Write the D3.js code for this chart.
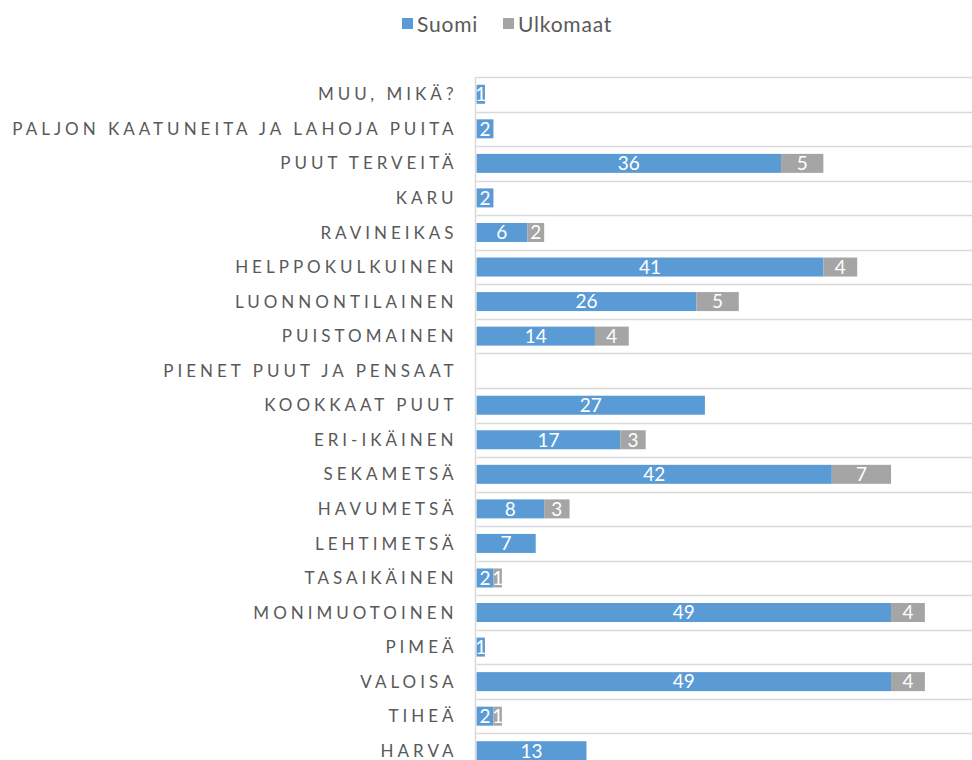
<!DOCTYPE html>
<html>
<head>
<meta charset="utf-8">
<script src="https://cdn.jsdelivr.net/npm/d3@7"></script>
<style>
  html, body { margin: 0; padding: 0; background: #fff; overflow: hidden; }
  svg { display: block; font-family: Lato, "Open Sans", sans-serif; }
</style>
</head>
<body>
<div class="chart"></div>
<script>
var categories = ["MUU, MIKÄ?", "PALJON KAATUNEITA JA LAHOJA PUITA", "PUUT TERVEITÄ", "KARU",
    "RAVINEIKAS", "HELPPOKULKUINEN", "LUONNONTILAINEN", "PUISTOMAINEN", "PIENET PUUT JA PENSAAT",
    "KOOKKAAT PUUT", "ERI-IKÄINEN", "SEKAMETSÄ", "HAVUMETSÄ", "LEHTIMETSÄ", "TASAIKÄINEN",
    "MONIMUOTOINEN", "PIMEÄ", "VALOISA", "TIHEÄ", "HARVA"];
var suomi    = [1, 2, 36, 2, 6, 41, 26, 14, 0, 27, 17, 42, 8, 7, 2, 49, 1, 49, 2, 13];
var ulkomaat = [0, 0, 5, 0, 2, 4, 5, 4, 0, 0, 3, 7, 3, 0, 1, 4, 0, 4, 1, 0];
var seriesNames = ["Suomi", "Ulkomaat"];
var seriesColors = ["#5B9BD5", "#A5A5A5"];

var width = 972, height = 760;
var plotLeft = 476.5, plotTop = 77, band = 34.55;

var rows = categories.map(function (c, i) {
    return { name: c, Suomi: suomi[i], Ulkomaat: ulkomaat[i] };
});

var svg = d3.select(".chart").append("svg")
    .attr("width", width)
    .attr("height", height);

var x = d3.scaleLinear().domain([0, 60]).range([plotLeft, plotLeft + 60 * 8.46]);
var y = d3.scaleBand().domain(categories)
    .range([plotTop, plotTop + band * categories.length])
    .paddingInner(0.45).paddingOuter(0.225);

// gridlines between rows
var edges = d3.range(categories.length + 1).map(function (i) { return plotTop + i * band; });
svg.append("g")
    .selectAll("line")
    .data(edges)
    .join("line")
    .attr("x1", plotLeft).attr("x2", width)
    .attr("y1", function (d) { return Math.round(d) + 0.5; })
    .attr("y2", function (d) { return Math.round(d) + 0.5; })
    .attr("stroke", "#d9d9d9")
    .attr("stroke-width", 1.5);

var stack = d3.stack().keys(seriesNames)(rows);

var layer = svg.append("g")
    .selectAll("g")
    .data(stack)
    .join("g")
    .attr("fill", function (d, i) { return seriesColors[i]; });

layer.selectAll("rect")
    .data(function (d) { return d; })
    .join("rect")
    .attr("x", function (d) { return x(d[0]); })
    .attr("width", function (d) { return x(d[1]) - x(d[0]); })
    .attr("y", function (d) { return y(d.data.name); })
    .attr("height", y.bandwidth());

// data labels
layer.selectAll("text")
    .data(function (d) { return d.filter(function (p) { return p[1] - p[0] > 0; }); })
    .join("text")
    .attr("x", function (d) { return (x(d[0]) + x(d[1])) / 2; })
    .attr("y", function (d) { return y(d.data.name) + y.bandwidth() / 2; })
    .attr("dy", "0.36em")
    .attr("text-anchor", "middle")
    .attr("fill", "#fff")
    .attr("font-size", 19)
    .text(function (d) { return d[1] - d[0]; });

// axis line
svg.append("line")
    .attr("x1", plotLeft - 1).attr("x2", plotLeft - 1)
    .attr("y1", plotTop).attr("y2", height)
    .attr("stroke", "#d9d9d9")
    .attr("stroke-width", 1.5);

// category labels
svg.append("g")
    .selectAll("text")
    .data(categories)
    .join("text")
    .attr("x", 457.5)
    .attr("y", function (d) { return y(d) + y.bandwidth() / 2; })
    .attr("dy", "0.36em")
    .attr("text-anchor", "end")
    .attr("fill", "#595959")
    .attr("font-size", 17)
    .attr("letter-spacing", "4px")
    .text(function (d) { return d; });

// legend
var legend = svg.append("g");
var lx = [402, 503];
seriesNames.forEach(function (s, i) {
    legend.append("rect")
        .attr("x", lx[i]).attr("y", 18)
        .attr("width", 11).attr("height", 11)
        .attr("fill", seriesColors[i]);
    legend.append("text")
        .attr("x", lx[i] + 15).attr("y", 24)
        .attr("dy", "0.36em")
        .attr("fill", "#595959")
        .attr("font-size", 21)
        .attr("letter-spacing", "0.8px")
        .text(s);
});
</script>
</body>
</html>
